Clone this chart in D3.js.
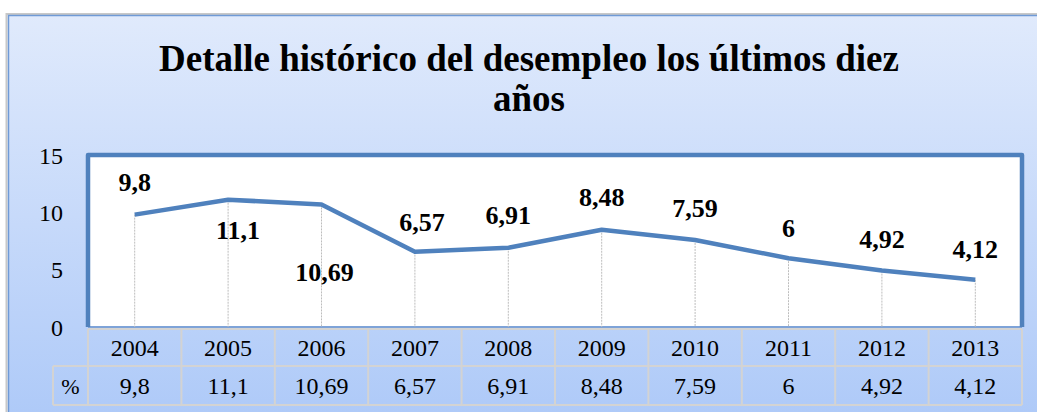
<!DOCTYPE html>
<html>
<head>
<meta charset="utf-8">
<script src="https://cdn.jsdelivr.net/npm/d3@7/dist/d3.min.js"></script>
</head>
<body style="margin:0">
<div id="chart"></div>
<script>
'use strict';

// chart data
var years = ["2004", "2005", "2006", "2007", "2008", "2009", "2010", "2011", "2012", "2013"];
var unemployment = [9.8, 11.1, 10.69, 6.57, 6.91, 8.48, 7.59, 6, 4.92, 4.12];
var yTicks = [0, 5, 10, 15];
var rowLabel = "%";
var titleLines = ["Detalle histórico del desempleo los últimos diez", "años"];

// label nudges (px) relative to each point, label centre
var labelNudge = [[0, -33], [10, 30], [3, 68], [7, -30], [0, -33], [0, -33], [0, -32], [0, -30], [0, -32], [0, -31]];

var width = 1037, height = 412;
var plot = { left: 88, right: 1022, top: 155, bottom: 327 };
var blue = "#4f81bd";
var fontFam = "'Liberation Serif'";

// spanish decimal comma
function fmt(v) { return String(v).replace(".", ","); }

var svg = d3.select("#chart").append("svg")
  .attr("width", width)
  .attr("height", height)
  .style("display", "block");

var defs = svg.append("defs");
var grad = defs.append("linearGradient")
  .attr("id", "bg").attr("x1", 0).attr("y1", 0).attr("x2", 0).attr("y2", 1);
grad.append("stop").attr("offset", "0%").attr("stop-color", "#e0eafc");
grad.append("stop").attr("offset", "100%").attr("stop-color", "#adc9f8");

// chart area (runs off the right / bottom edge like the reference)
svg.append("rect")
  .attr("x", 6.5).attr("y", 14)
  .attr("width", 1040).attr("height", 410)
  .attr("fill", "none")
  .attr("stroke", "#c8c8c8").attr("stroke-width", 2);
svg.append("rect")
  .attr("x", 8.5).attr("y", 15.5)
  .attr("width", 1040).attr("height", 410)
  .attr("fill", "url(#bg)")
  .attr("stroke", "#6f9ad6").attr("stroke-width", 1.5);

// title
svg.append("g").selectAll("text")
  .data(titleLines)
  .join("text")
  .attr("x", 529)
  .attr("y", function (d, i) { return 71 + i * 40; })
  .attr("text-anchor", "middle")
  .style("font-family", fontFam)
  .style("font-size", "37px")
  .style("font-weight", "bold")
  .text(function (d) { return d; });

var x = d3.scaleBand().domain(years).range([plot.left, plot.right]);
var y = d3.scaleLinear().domain([0, 15]).range([plot.bottom, plot.top]);
var cx = function (d) { return x(d) + x.bandwidth() / 2; };

// plot area
svg.append("rect")
  .attr("x", plot.left).attr("y", plot.top)
  .attr("width", plot.right - plot.left).attr("height", plot.bottom - plot.top)
  .attr("fill", "#fff");
svg.append("line")
  .attr("x1", plot.left).attr("x2", plot.right)
  .attr("y1", plot.bottom).attr("y2", plot.bottom)
  .attr("stroke", "#7ea3d8").attr("stroke-width", 2);
svg.append("path")
  .attr("d", "M" + plot.left + "," + plot.bottom + "V" + plot.top + "H" + plot.right + "V" + plot.bottom)
  .attr("fill", "none")
  .attr("stroke", blue).attr("stroke-width", 4.5)
  .attr("stroke-linejoin", "round");

// y axis
var yAxis = svg.append("g")
  .attr("transform", "translate(" + plot.left + ",0)")
  .call(d3.axisLeft(y).tickValues(yTicks).tickSize(0).tickPadding(25));
yAxis.attr("font-family", null).attr("font-size", null);
yAxis.select(".domain").remove();
yAxis.selectAll("text")
  .style("font-family", fontFam)
  .style("font-size", "24px")
  .attr("fill", "#000")
  .attr("dy", "0.34em");

// drop lines
svg.append("g").selectAll("line")
  .data(years)
  .join("line")
  .attr("x1", cx).attr("x2", cx)
  .attr("y1", function (d, i) { return y(unemployment[i]); })
  .attr("y2", plot.bottom)
  .attr("stroke", "#bdbdbd")
  .attr("stroke-width", 1)
  .attr("stroke-dasharray", "2,1");

// line
var line = d3.line()
  .x(function (d, i) { return cx(years[i]); })
  .y(function (d) { return y(d); });
svg.append("path")
  .datum(unemployment)
  .attr("d", line)
  .attr("fill", "none")
  .attr("stroke", blue)
  .attr("stroke-width", 4.5)
  .attr("stroke-linejoin", "round");

// data labels
svg.append("g").selectAll("text")
  .data(unemployment)
  .join("text")
  .attr("x", function (d, i) { return cx(years[i]) + labelNudge[i][0]; })
  .attr("y", function (d, i) { return y(d) + labelNudge[i][1] + 9; })
  .attr("text-anchor", "middle")
  .style("font-family", fontFam)
  .style("font-size", "26px")
  .style("font-weight", "bold")
  .text(fmt);

// data table
var row1 = plot.bottom + 2, row2 = 366, row3 = 405, corner = 53;
var grid = svg.append("g")
  .attr("stroke", "#d3d3d3")
  .attr("stroke-width", 2)
  .attr("fill", "none");
grid.append("line").attr("x1", plot.left).attr("x2", plot.right).attr("y1", row1).attr("y2", row1);
grid.append("line").attr("x1", corner).attr("x2", plot.right).attr("y1", row2).attr("y2", row2);
grid.append("line").attr("x1", corner).attr("x2", plot.right).attr("y1", row3).attr("y2", row3);
grid.append("line").attr("x1", corner).attr("x2", corner).attr("y1", row2).attr("y2", row3);
grid.selectAll("line.col")
  .data(years.concat(["end"]))
  .join("line")
  .attr("class", "col")
  .attr("x1", function (d, i) { return plot.left + i * x.bandwidth(); })
  .attr("x2", function (d, i) { return plot.left + i * x.bandwidth(); })
  .attr("y1", row1).attr("y2", row3);

var tableText = svg.append("g")
  .attr("text-anchor", "middle")
  .style("font-family", fontFam)
  .style("font-size", "24px");
tableText.selectAll("text.yr")
  .data(years)
  .join("text")
  .attr("class", "yr")
  .attr("x", cx)
  .attr("y", (row1 + row2) / 2 + 8)
  .text(function (d) { return d; });
tableText.selectAll("text.val")
  .data(unemployment)
  .join("text")
  .attr("class", "val")
  .attr("x", function (d, i) { return cx(years[i]); })
  .attr("y", (row2 + row3) / 2 + 8)
  .text(fmt);
tableText.append("text")
  .attr("x", (corner + plot.left) / 2)
  .attr("y", (row2 + row3) / 2 + 8)
  .style("font-size", "22px")
  .text(rowLabel);
</script>
</body>
</html>
